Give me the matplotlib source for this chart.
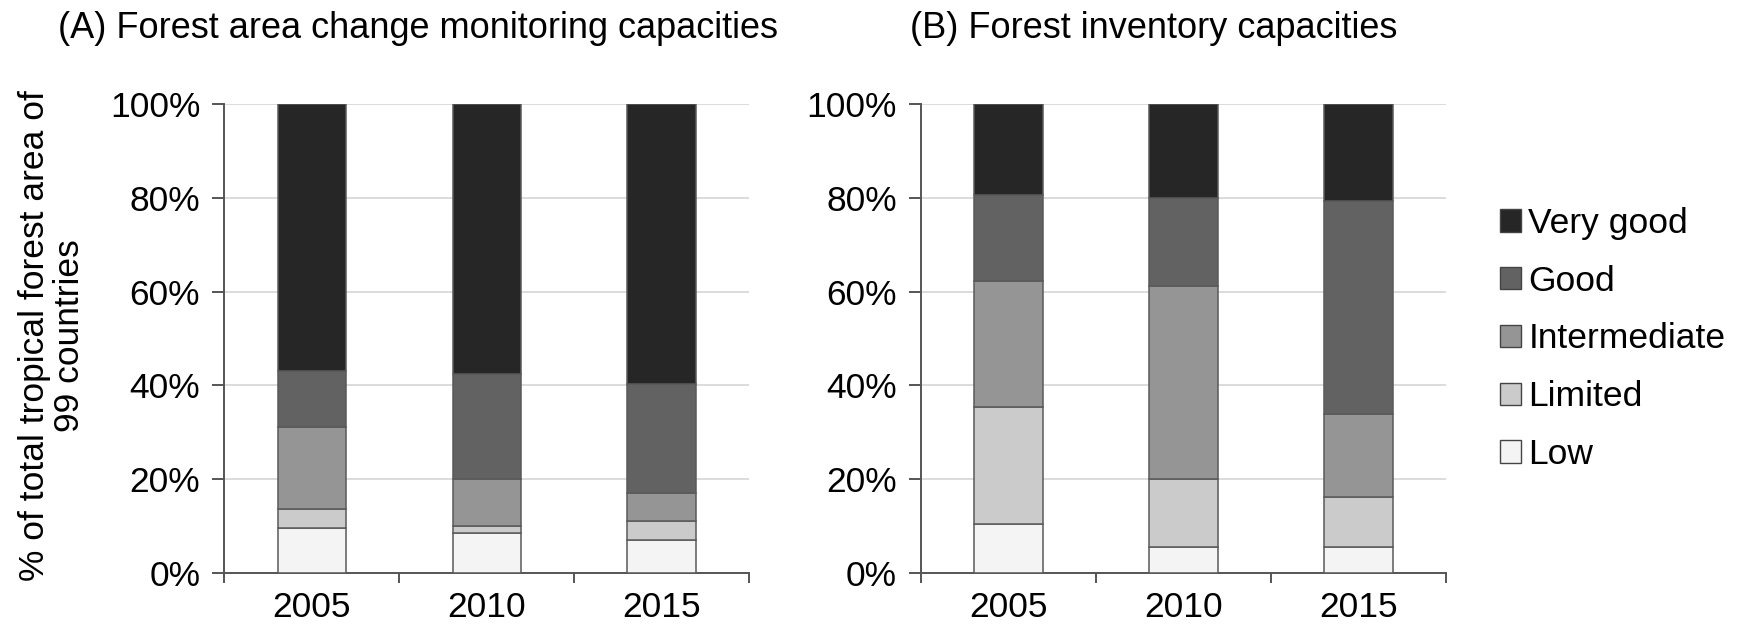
import matplotlib
matplotlib.use("Agg")
import matplotlib.pyplot as plt
from matplotlib.patches import Patch
from matplotlib.ticker import MultipleLocator, FixedLocator, PercentFormatter
import numpy as np

plt.rcParams["font.family"] = ["Liberation Sans", "DejaVu Sans"]

years = ["2005", "2010", "2015"]
levels = ["Low", "Limited", "Intermediate", "Good", "Very good"]
level_colors = ["#f4f4f4", "#cbcbcb", "#959595", "#626262", "#262626"]

# (A) Forest area change monitoring capacities, % of tropical forest area
area_low = [9.6, 8.5, 7.0]
area_limited = [4.1, 1.5, 4.1]
area_intermediate = [17.5, 10.1, 6.0]
area_good = [11.9, 22.4, 23.2]
area_very_good = [56.9, 57.5, 59.7]

# (B) Forest inventory capacities, % of tropical forest area
inv_low = [10.5, 5.6, 5.6]
inv_limited = [24.9, 14.5, 10.6]
inv_intermediate = [26.8, 41.2, 17.6]
inv_good = [18.5, 18.6, 45.5]
inv_very_good = [19.3, 20.1, 20.7]

titles = ["(A) Forest area change monitoring capacities",
          "(B) Forest inventory capacities"]

FS = 25.5
W, H = 1746, 627
fig = plt.figure(figsize=(W / 100, H / 100), dpi=100)

ax_bottom = (H - 573) / H
ax_height = (573 - 104) / H
axA = fig.add_axes([224.5 / W, ax_bottom, 524.5 / W, ax_height])
axB = fig.add_axes([921 / W, ax_bottom, 525 / W, ax_height])

spine_col = "#555555"
edge_col = "#5a5a5a"


def draw_panel(ax, series, title, title_x):
    x = np.arange(len(years))
    bottom = np.zeros(len(years))
    for vals, col in zip(series, level_colors):
        vals = np.asarray(vals, dtype=float)
        ax.bar(x, vals, width=0.39, bottom=bottom, color=col,
               edgecolor=edge_col, linewidth=1.1, zorder=3)
        bottom += vals
    ax.set_xlim(-0.5, len(years) - 0.5)
    ax.set_ylim(0, 100)
    ax.yaxis.set_major_locator(MultipleLocator(20))
    ax.yaxis.set_major_formatter(PercentFormatter(decimals=0))
    ax.grid(axis="y", color="#d9d9d9", linewidth=1.3, zorder=0)
    ax.set_axisbelow(True)
    for s in ("top", "right"):
        ax.spines[s].set_visible(False)
    for s in ("left", "bottom"):
        ax.spines[s].set_color(spine_col)
        ax.spines[s].set_linewidth(1.4)
    ax.set_xticks(x)
    ax.set_xticklabels(years)
    ax.xaxis.set_minor_locator(FixedLocator(np.arange(-0.5, len(years), 1.0)))
    ax.tick_params(axis="x", which="major", length=0, pad=13, labelsize=FS)
    ax.tick_params(axis="x", which="minor", length=7, width=1.4,
                   color=spine_col, direction="out")
    ax.tick_params(axis="y", which="major", length=8.5, width=1.4,
                   color=spine_col, direction="out", pad=9, labelsize=FS)
    fig.text(title_x, (H - 28) / H, title, fontsize=FS + 0.5,
             ha="left", va="center")


draw_panel(axA, [area_low, area_limited, area_intermediate, area_good,
                 area_very_good], titles[0], 58 / W)
draw_panel(axB, [inv_low, inv_limited, inv_intermediate, inv_good,
                 inv_very_good], titles[1], 910 / W)

fig.text(52 / W, (H - 336) / H,
         "% of total tropical forest area of\n99 countries",
         fontsize=FS, rotation=90, ha="center", va="center",
         multialignment="center", linespacing=1.05)

handles = [Patch(facecolor=c, edgecolor="#444444", linewidth=1.0)
           for c in level_colors][::-1]
fig.legend(handles, levels[::-1], loc="center left",
           bbox_to_anchor=(1500 / W, (H - 339) / H), frameon=False,
           fontsize=FS, handlelength=0.6, handleheight=0.6,
           handletextpad=0.2, labelspacing=0.7, borderpad=0,
           borderaxespad=0)

fig.savefig("out.png", dpi=100)
